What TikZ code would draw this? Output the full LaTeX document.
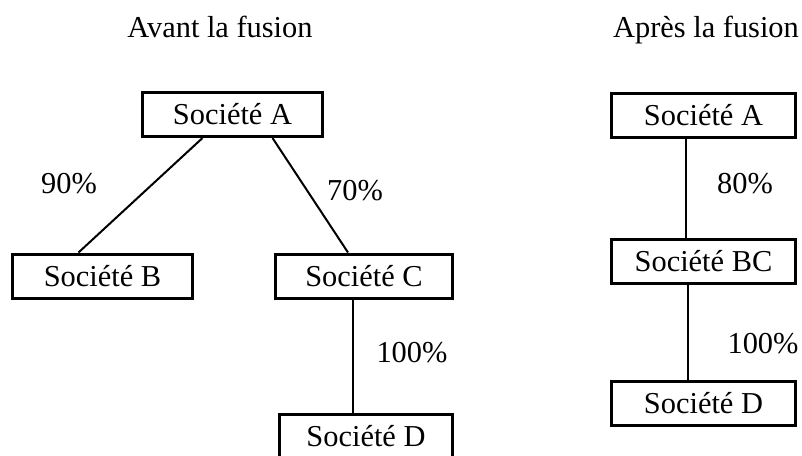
\documentclass[tikz,border=0pt]{standalone}
\usepackage{fontspec}
\setmainfont{Liberation Serif}
\newcommand{\chartfont}{\fontsize{15.2}{18}\selectfont}

\begin{document}
\begin{tikzpicture}[
x=0.5pt, y=-0.5pt,
every node/.style={font=\chartfont},
title/.style={anchor=base, inner sep=0pt},
firm/.style={draw, line width=1.5pt, minimum width=90pt, minimum height=22pt, inner sep=0pt},
pct/.style={anchor=base, inner sep=0pt},
link/.style={line width=1pt} ]

\useasboundingbox (0,0) rectangle (802,455);

\node[title](T1) at (220,37) {Avant la fusion};

\node[title](T2) at (706,37) {Après la fusion};

\node[firm](A1) at (232.5,114.5) {Société A};

\node[firm](B1) at (102.5,276) {Société B};

\node[firm, minimum width=88.5pt](C1) at (364,276) {Société C};

\node[firm, minimum width=86.5pt](D1) at (366,436) {Société D};

\node[firm, minimum width=92pt](A2) at (703.5,115) {Société A};

\node[firm, minimum width=92pt](BC2) at (703.5,261.5) {Société BC};

\node[firm, minimum width=92pt](D2) at (703.5,403.5) {Société D};

\draw[link] ([xshift=-15pt]A1.south) -- ([xshift=-12pt]B1.north);

\draw[link] ([xshift=20pt]A1.south) -- ([xshift=-8pt]C1.north);

\draw[link] ([xshift=-5.5pt]C1.south) -- ([xshift=-6.5pt]D1.north);

\draw[link] ([xshift=-8.75pt]A2.south) -- ([xshift=-8.75pt]BC2.north);

\draw[link] ([xshift=-7.75pt]BC2.south) -- ([xshift=-7.75pt]D2.north);

\node[pct](P1) at (69,193) {90\%};

\node[pct](P2) at (355,200) {70\%};

\node[pct](P3) at (412,362) {100\%};

\node[pct](P4) at (745,193) {80\%};

\node[pct](P5) at (763,353) {100\%};
\end{tikzpicture}
\end{document}
